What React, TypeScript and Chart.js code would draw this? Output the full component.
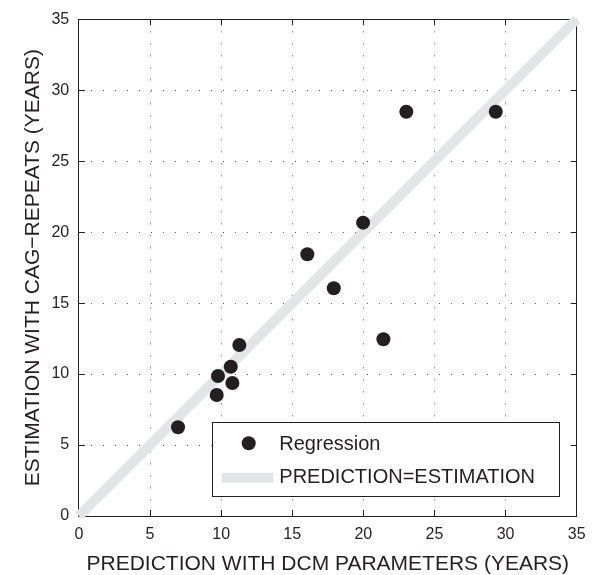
import React, { useEffect, useRef } from "react";
import { Chart, registerables } from "chart.js";

Chart.register(...registerables);

// ---- Data ----
const predictionDCM = [6.97, 9.69, 9.78, 10.79, 10.68, 11.28, 16.06, 17.92, 19.98, 21.41, 23.02, 29.31];
const estimationCAG = [6.25, 8.53, 9.87, 9.37, 10.52, 12.05, 18.44, 16.05, 20.67, 12.45, 28.49, 28.49];
const identityEnds = [0, 35];
const axisMin = 0;
const axisMax = 35;
const tickStep = 5;
const seriesLabels = ["Regression", "PREDICTION=ESTIMATION"];
const xTitle = "PREDICTION WITH DCM PARAMETERS (YEARS)";
const yTitle = "ESTIMATION WITH CAG\u2212REPEATS (YEARS)";

const FONT = "'Liberation Sans', Arial, Helvetica, sans-serif";
const INK = "#231f20";
const LINE_GRAY = "#e3e4e5";

const legendPlugin = {
  id: "boxLegend",
  afterDraw(chart: any) {
    const ctx = chart.ctx;
    const area = chart.chartArea;
    const w = 346.6;
    const h = 74.4;
    const x0 = area.right - 18.4 - w;
    const y0 = area.bottom - 19.3 - h;
    ctx.save();
    ctx.fillStyle = "#ffffff";
    ctx.fillRect(x0, y0, w, h);
    ctx.strokeStyle = INK;
    ctx.lineWidth = 1;
    ctx.strokeRect(Math.round(x0) + 0.5, Math.round(y0) + 0.5, Math.round(w), Math.round(h));
    const ds0 = chart.data.datasets[0];
    ctx.fillStyle = ds0.backgroundColor;
    ctx.beginPath();
    ctx.arc(x0 + 37, y0 + 21, 7, 0, Math.PI * 2);
    ctx.fill();
    const ds1 = chart.data.datasets[1];
    ctx.strokeStyle = ds1.borderColor;
    ctx.lineWidth = 10;
    ctx.beginPath();
    ctx.moveTo(x0 + 10, y0 + 55.4);
    ctx.lineTo(x0 + 61.6, y0 + 55.4);
    ctx.stroke();
    ctx.fillStyle = INK;
    ctx.font = `20px ${FONT}`;
    ctx.textBaseline = "alphabetic";
    ctx.textAlign = "left";
    ctx.fillText(ds0.label, x0 + 67.6, y0 + 28);
    ctx.fillText(ds1.label, x0 + 67.6, y0 + 61);
    ctx.restore();
  },
};

const zeroPad = (s: any) => {
  s.paddingLeft = 0;
  s.paddingRight = 0;
  s.paddingTop = 0;
  s.paddingBottom = 0;
};

export default function App() {
  const canvasRef = useRef<HTMLCanvasElement | null>(null);

  useEffect(() => {
    if (!canvasRef.current) return;
    const points = predictionDCM.map((x, i) => ({ x, y: estimationCAG[i] }));
    const identity = identityEnds.map((v) => ({ x: v, y: v }));

    const tickFont = { family: FONT, size: 16 };
    const titleFont = { family: FONT, size: 21, lineHeight: 1 };
    const gridOpts = {
      color: "#555",
      lineWidth: 1,
      drawTicks: true,
      tickLength: -6,
      tickColor: INK,
      tickWidth: 1,
    };
    const frameGrid = {
      drawOnChartArea: false,
      drawTicks: true,
      tickLength: -6,
      tickColor: INK,
      tickWidth: 1,
    };

    const chart = new Chart(canvasRef.current, {
      type: "scatter",
      data: {
        datasets: [
          {
            label: seriesLabels[0],
            data: points,
            backgroundColor: INK,
            borderWidth: 0,
            pointRadius: 7,
            pointHoverRadius: 7,
          },
          {
            type: "line",
            label: seriesLabels[1],
            data: identity,
            borderColor: LINE_GRAY,
            borderWidth: 10,
            pointRadius: 0,
            showLine: true,
            fill: false,
            clip: false,
          } as any,
        ],
      },
      plugins: [legendPlugin],
      options: {
        animation: false,
        responsive: false,
        events: [],
        layout: { autoPadding: false, padding: { left: 0, top: 19.3, right: 16.3, bottom: 0 } },
        plugins: {
          legend: { display: false },
          tooltip: { enabled: false },
        },
        scales: {
          x: {
            type: "linear",
            position: "bottom",
            min: axisMin,
            max: axisMax,
            afterFit: (s: any) => {
              s.height = 59;
              zeroPad(s);
            },
            ticks: { stepSize: tickStep, color: INK, font: tickFont, padding: 14.6, maxRotation: 0 },
            grid: gridOpts,
            border: { display: true, color: INK, width: 1, dash: [1, 11] },
            title: { display: true, text: xTitle, color: INK, font: titleFont, padding: { top: 0, bottom: 0 } },
          },
          y: {
            type: "linear",
            position: "left",
            min: axisMin,
            max: axisMax,
            afterFit: (s: any) => {
              s.width = 78.9;
              zeroPad(s);
            },
            ticks: { stepSize: tickStep, color: INK, font: tickFont, padding: 15.7 },
            grid: gridOpts,
            border: { display: true, color: INK, width: 1, dash: [1, 11] },
            title: { display: true, text: yTitle, color: INK, font: titleFont, padding: { top: 22.5, bottom: 0 } },
          },
          x2: {
            type: "linear",
            axis: "x",
            position: "top",
            min: axisMin,
            max: axisMax,
            afterFit: (s: any) => {
              s.height = 0;
              zeroPad(s);
            },
            ticks: { stepSize: tickStep, display: false },
            grid: frameGrid,
            border: { display: true, color: INK, width: 1 },
          },
          y2: {
            type: "linear",
            axis: "y",
            position: "right",
            min: axisMin,
            max: axisMax,
            afterFit: (s: any) => {
              s.width = 0;
              zeroPad(s);
            },
            ticks: { stepSize: tickStep, display: false },
            grid: frameGrid,
            border: { display: true, color: INK, width: 1 },
          },
        } as any,
      },
    } as any);

    return () => chart.destroy();
  }, []);

  return (
    <div style={{ position: "fixed", left: 0, top: 0, width: 593, height: 575, background: "#fff" }}>
      <canvas ref={canvasRef} width={593} height={575} style={{ display: "block" }} />
    </div>
  );
}
